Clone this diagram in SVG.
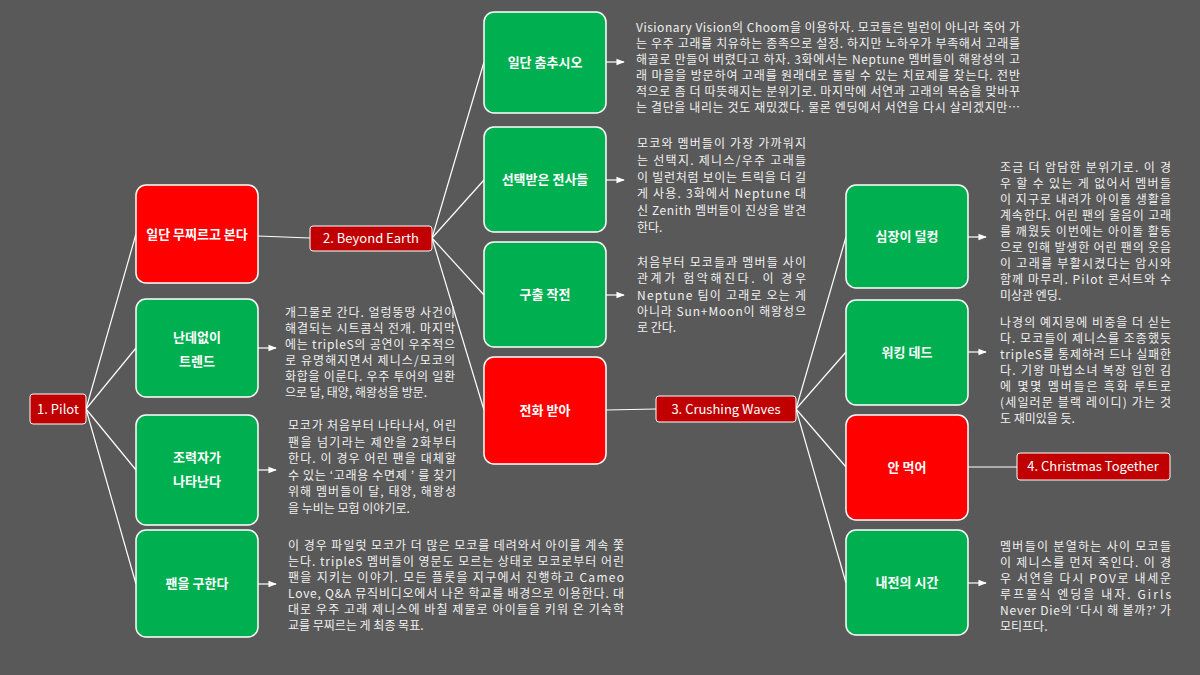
<svg xmlns="http://www.w3.org/2000/svg" width="1200" height="675" viewBox="0 0 1200 675">
<defs>
<marker id="ah" viewBox="0 0 10 10" refX="9" refY="5" markerWidth="7" markerHeight="7" orient="auto"><path d="M0,1 L10,5 L0,9 z" fill="#fff"/></marker>
<style>
.g{fill:#00b050;stroke:#fff;stroke-width:1.5}
.r{fill:#ff0000;stroke:#fff;stroke-width:1.5}
.d{fill:#c00000;stroke:#fff;stroke-width:1}
.bl{font-family:"Noto Sans CJK KR","Noto Sans",sans-serif;font-size:13px;font-weight:bold;fill:#fff;text-anchor:middle}
.sl{font-family:"Noto Sans CJK KR","Noto Sans",sans-serif;font-size:13px;fill:#fff;text-anchor:middle}
.p{font-family:"Noto Sans CJK KR","Noto Sans",sans-serif;font-size:12px;fill:#f0f0f0}
.c{stroke:#fff;stroke-width:1.2;fill:none}
.a{stroke:#fff;stroke-width:1.2;fill:none;marker-end:url(#ah)}
</style>
</defs>
<rect width="1200" height="675" fill="#595959"/>
<g id="connectors">
<line class="c" x1="86" y1="409" x2="136" y2="234"/>
<line class="c" x1="86" y1="409" x2="136" y2="348"/>
<line class="c" x1="86" y1="409" x2="136" y2="470"/>
<line class="c" x1="86" y1="409" x2="136" y2="584"/>
<line class="c" x1="258" y1="236" x2="310" y2="238"/>
<line class="c" x1="432" y1="238" x2="484" y2="62"/>
<line class="c" x1="432" y1="238" x2="484" y2="180"/>
<line class="c" x1="432" y1="238" x2="484" y2="295"/>
<line class="c" x1="432" y1="238" x2="484" y2="410"/>
<line class="c" x1="606" y1="410" x2="656" y2="409"/>
<line class="c" x1="796" y1="409" x2="846" y2="237"/>
<line class="c" x1="796" y1="409" x2="846" y2="352"/>
<line class="c" x1="796" y1="409" x2="846" y2="467"/>
<line class="c" x1="796" y1="409" x2="846" y2="583"/>
<line class="c" x1="968" y1="467" x2="1017" y2="467"/>
<line class="a" x1="606" y1="62" x2="624" y2="62"/>
<line class="a" x1="606" y1="180" x2="624" y2="180"/>
<line class="a" x1="606" y1="295" x2="624" y2="295"/>
<line class="a" x1="258" y1="348" x2="276" y2="348"/>
<line class="a" x1="258" y1="470" x2="276" y2="470"/>
<line class="a" x1="258" y1="584" x2="276" y2="584"/>
<line class="a" x1="968" y1="237" x2="986" y2="237"/>
<line class="a" x1="968" y1="352" x2="986" y2="352"/>
<line class="a" x1="968" y1="583" x2="986" y2="583"/>
</g>
<g id="pilot"><rect class="d" x="30" y="394" width="56" height="30" rx="3"/><text class="sl" x="58" y="414">1. Pilot</text></g>
<g id="n1"><rect class="r" x="136" y="185" width="122" height="98" rx="10"/><text class="bl" x="197" y="239">일단 무찌르고 본다</text></g>
<g id="n2"><rect class="g" x="136" y="299" width="122" height="98" rx="10"/><text class="bl" x="197" y="342">난데없이</text><text class="bl" x="197" y="366">트렌드</text></g>
<g id="n3"><rect class="g" x="136" y="415" width="122" height="110" rx="10"/><text class="bl" x="197" y="462">조력자가</text><text class="bl" x="197" y="486">나타난다</text></g>
<g id="n4"><rect class="g" x="136" y="530" width="122" height="107" rx="10"/><text class="bl" x="197" y="588">팬을 구한다</text></g>
<g id="beyond"><rect class="d" x="310" y="226" width="122" height="25" rx="3"/><text class="sl" x="371" y="243">2. Beyond Earth</text></g>
<g id="m1"><rect class="g" x="484" y="12" width="122" height="101" rx="10"/><text class="bl" x="545" y="67">일단 춤추시오</text></g>
<g id="m2"><rect class="g" x="484" y="127" width="122" height="105" rx="10"/><text class="bl" x="545" y="184">선택받은 전사들</text></g>
<g id="m3"><rect class="g" x="484" y="242" width="122" height="105" rx="10"/><text class="bl" x="545" y="299">구출 작전</text></g>
<g id="m4"><rect class="r" x="484" y="357" width="122" height="107" rx="10"/><text class="bl" x="545" y="415">전화 받아</text></g>
<g id="crushing"><rect class="d" x="656" y="396" width="140" height="26" rx="3"/><text class="sl" x="726" y="414">3. Crushing Waves</text></g>
<g id="k1"><rect class="g" x="846" y="185" width="122" height="103" rx="10"/><text class="bl" x="907" y="241">심장이 덜컹</text></g>
<g id="k2"><rect class="g" x="846" y="300" width="122" height="105" rx="10"/><text class="bl" x="907" y="357">워킹 데드</text></g>
<g id="k3"><rect class="r" x="846" y="415" width="122" height="105" rx="10"/><text class="bl" x="907" y="472">안 먹어</text></g>
<g id="k4"><rect class="g" x="846" y="530" width="122" height="105" rx="10"/><text class="bl" x="907" y="587">내전의 시간</text></g>
<g id="christmas"><rect class="d" x="1017" y="453" width="153" height="27" rx="3"/><text class="sl" x="1093" y="471">4. Christmas Together</text></g>
<g id="texts" class="p">
<text x="636" y="32" textLength="384" lengthAdjust="spacing">Visionary Vision의 Choom을 이용하자. 모코들은 빌런이 아니라 죽어 가</text>
<text x="636" y="48" textLength="384" lengthAdjust="spacing">는 우주 고래를 치유하는 종족으로 설정. 하지만 노하우가 부족해서 고래를</text>
<text x="636" y="64" textLength="384" lengthAdjust="spacing">해골로 만들어 버렸다고 하자. 3화에서는 Neptune 멤버들이 해왕성의 고</text>
<text x="636" y="80" textLength="384" lengthAdjust="spacing">래 마을을 방문하여 고래를 원래대로 돌릴 수 있는 치료제를 찾는다. 전반</text>
<text x="636" y="96" textLength="384" lengthAdjust="spacing">적으로 좀 더 따뜻해지는 분위기로. 마지막에 서연과 고래의 목숨을 맞바꾸</text>
<text x="636" y="112" textLength="384" lengthAdjust="spacing">는 결단을 내리는 것도 재밌겠다. 물론 엔딩에서 서연을 다시 살리겠지만…</text>
<text x="637" y="148" textLength="169" lengthAdjust="spacing">모코와 멤버들이 가장 가까워지</text>
<text x="637" y="165" textLength="169" lengthAdjust="spacing">는 선택지. 제니스/우주 고래들</text>
<text x="637" y="182" textLength="169" lengthAdjust="spacing">이 빌런처럼 보이는 트릭을 더 길</text>
<text x="637" y="198" textLength="169" lengthAdjust="spacing">게 사용. 3화에서 Neptune 대</text>
<text x="637" y="215" textLength="169" lengthAdjust="spacing">신 Zenith 멤버들이 진상을 발견</text>
<text x="637" y="232">한다.</text>
<text x="637" y="267" textLength="169" lengthAdjust="spacing">처음부터 모코들과 멤버들 사이</text>
<text x="637" y="283" textLength="169" lengthAdjust="spacing">관계가 험악해진다. 이 경우</text>
<text x="637" y="300" textLength="169" lengthAdjust="spacing">Neptune 팀이 고래로 오는 게</text>
<text x="637" y="316" textLength="169" lengthAdjust="spacing">아니라 Sun+Moon이 해왕성으</text>
<text x="637" y="332">로 간다.</text>
<text x="285" y="317" textLength="170" lengthAdjust="spacing">개그물로 간다. 얼렁뚱땅 사건이</text>
<text x="285" y="333" textLength="170" lengthAdjust="spacing">해결되는 시트콤식 전개. 마지막</text>
<text x="285" y="349" textLength="170" lengthAdjust="spacing">에는 tripleS의 공연이 우주적으</text>
<text x="285" y="365" textLength="170" lengthAdjust="spacing">로 유명해지면서 제니스/모코의</text>
<text x="285" y="381" textLength="170" lengthAdjust="spacing">화합을 이룬다. 우주 투어의 일환</text>
<text x="285" y="397">으로 달, 태양, 해왕성을 방문.</text>
<text x="288" y="430" textLength="168" lengthAdjust="spacing">모코가 처음부터 나타나서, 어린</text>
<text x="288" y="447" textLength="168" lengthAdjust="spacing">팬을 넘기라는 제안을 2화부터</text>
<text x="288" y="463" textLength="168" lengthAdjust="spacing">한다. 이 경우 어린 팬을 대체할</text>
<text x="288" y="480" textLength="168" lengthAdjust="spacing">수 있는 ‘고래용 수면제 ’ 를 찾기</text>
<text x="288" y="496" textLength="168" lengthAdjust="spacing">위해 멤버들이 달, 태양, 해왕성</text>
<text x="288" y="513">을 누비는 모험 이야기로.</text>
<text x="288" y="550" textLength="336" lengthAdjust="spacing">이 경우 파일럿 모코가 더 많은 모코를 데려와서 아이를 계속 쫓</text>
<text x="288" y="566" textLength="336" lengthAdjust="spacing">는다. tripleS 멤버들이 영문도 모르는 상태로 모코로부터 어린</text>
<text x="288" y="582" textLength="336" lengthAdjust="spacing">팬을 지키는 이야기. 모든 플롯을 지구에서 진행하고 Cameo</text>
<text x="288" y="598" textLength="336" lengthAdjust="spacing">Love, Q&amp;A 뮤직비디오에서 나온 학교를 배경으로 이용한다. 대</text>
<text x="288" y="614" textLength="336" lengthAdjust="spacing">대로 우주 고래 제니스에 바칠  제물로 아이들을 키워 온 기숙학</text>
<text x="288" y="630">교를 무찌르는 게 최종 목표.</text>
<text x="1000" y="172" textLength="171" lengthAdjust="spacing">조금 더 암담한 분위기로. 이 경</text>
<text x="1000" y="188" textLength="171" lengthAdjust="spacing">우 할 수 있는 게 없어서 멤버들</text>
<text x="1000" y="204" textLength="171" lengthAdjust="spacing">이 지구로 내려가 아이돌 생활을</text>
<text x="1000" y="220" textLength="171" lengthAdjust="spacing">계속한다. 어린 팬의 울음이 고래</text>
<text x="1000" y="236" textLength="171" lengthAdjust="spacing">를 깨웠듯 이번에는 아이돌 활동</text>
<text x="1000" y="252" textLength="171" lengthAdjust="spacing">으로 인해 발생한 어린 팬의 웃음</text>
<text x="1000" y="268" textLength="171" lengthAdjust="spacing">이 고래를 부활시켰다는 암시와</text>
<text x="1000" y="284" textLength="171" lengthAdjust="spacing">함께 마무리. Pilot 콘서트와 수</text>
<text x="1000" y="300">미상관 엔딩.</text>
<text x="1000" y="327" textLength="171" lengthAdjust="spacing">나경의 예지몽에 비중을 더 싣는</text>
<text x="1000" y="343" textLength="171" lengthAdjust="spacing">다. 모코들이 제니스를 조종했듯</text>
<text x="1000" y="359" textLength="171" lengthAdjust="spacing">tripleS를 통제하려 드나 실패한</text>
<text x="1000" y="375" textLength="171" lengthAdjust="spacing">다. 기왕 마법소녀 복장 입힌 김</text>
<text x="1000" y="391" textLength="171" lengthAdjust="spacing">에 몇몇 멤버들은 흑화 루트로</text>
<text x="1000" y="407" textLength="171" lengthAdjust="spacing">(세일러문 블랙 레이디) 가는 것</text>
<text x="1000" y="423">도 재미있을 듯.</text>
<text x="1000" y="551" textLength="171" lengthAdjust="spacing">멤버들이 분열하는 사이 모코들</text>
<text x="1000" y="567" textLength="171" lengthAdjust="spacing">이 제니스를 먼저 죽인다. 이 경</text>
<text x="1000" y="583" textLength="171" lengthAdjust="spacing">우 서연을 다시 POV로 내세운</text>
<text x="1000" y="599" textLength="171" lengthAdjust="spacing">루프물식 엔딩을 내자. Girls</text>
<text x="1000" y="615" textLength="171" lengthAdjust="spacing">Never Die의 ‘다시 해 볼까?’ 가</text>
<text x="1000" y="631">모티프다.</text>
</g>
</svg>
